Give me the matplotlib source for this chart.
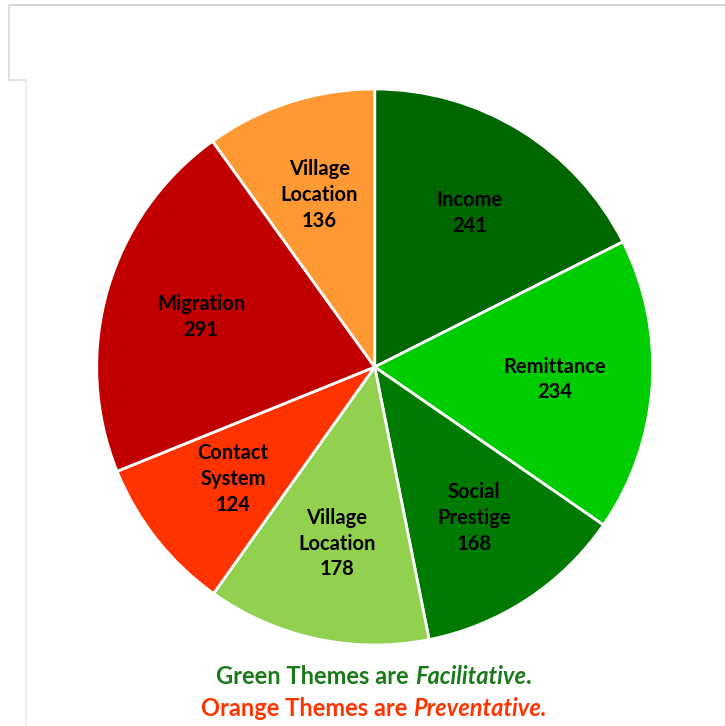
import matplotlib
matplotlib.use("Agg")
import matplotlib.pyplot as plt
from matplotlib.lines import Line2D
import numpy as np

# slices, clockwise from 12 o'clock
labels = ["Income", "Remittance", "Social\nPrestige", "Village\nLocation",
          "Contact\nSystem", "Migration", "Village\nLocation"]
values = [241, 234, 168, 178, 124, 291, 136]
colors = ["#006600", "#00cc00", "#007a00", "#92d050", "#ff3300", "#c00000", "#ff9933"]

plt.rcParams['font.family'] = ['Lato', 'DejaVu Sans']

fig = plt.figure(figsize=(7.25, 7.26), dpi=100)
ax = fig.add_axes([0.1334, 0.1116, 0.7669, 0.7658])

wedges, _ = ax.pie(values, colors=colors, startangle=90, counterclock=False,
                   wedgeprops=dict(edgecolor="white", linewidth=2))
ax.set_aspect("equal")
ax.set_xlim(-1, 1)
ax.set_ylim(-1, 1)

for w, lab, v in zip(wedges, labels, values):
    mid = np.deg2rad((w.theta1 + w.theta2) / 2)
    r = 0.65
    ax.text(r * np.cos(mid), r * np.sin(mid), f"{lab}\n{v}", ha="center", va="center",
            fontsize=14.5, fontweight="bold", color="black", linespacing=1.35)

# faint frame lines from the source screenshot
gray = "#dcdcdc"
W, H = 725, 726
def seg(x0, y0, x1, y1, c=gray):
    fig.add_artist(Line2D([x0 / W, x1 / W], [1 - y0 / H, 1 - y1 / H], color=c, lw=1.2,
                          transform=fig.transFigure))
seg(9, 5, 725, 5, "#d0d0d0")
seg(9, 5, 9, 80)
seg(9, 80, 26, 80)
seg(26, 80, 26, 726, "#ececec")

# footer with mixed italic
footer = [
    ([("Green Themes are ", "normal"), ("Facilitative", "italic"), (".", "normal")], "#1a7a1a", 676),
    ([("Orange Themes are ", "normal"), ("Preventative.", "italic")], "#ff3300", 708),
]
fig.canvas.draw()
rend = fig.canvas.get_renderer()
for parts, col, ypix in footer:
    texts = []
    for s, st in parts:
        t = fig.text(0, 1 - ypix / H, s, fontsize=17, fontweight="bold", style=st,
                     color=col, ha="left", va="center")
        texts.append(t)
    widths = [t.get_window_extent(rend).width for t in texts]
    x = 374 - sum(widths) / 2
    for t, wd in zip(texts, widths):
        t.set_x(x / W)
        x += wd

fig.savefig("out.png", dpi=100, facecolor="white")
